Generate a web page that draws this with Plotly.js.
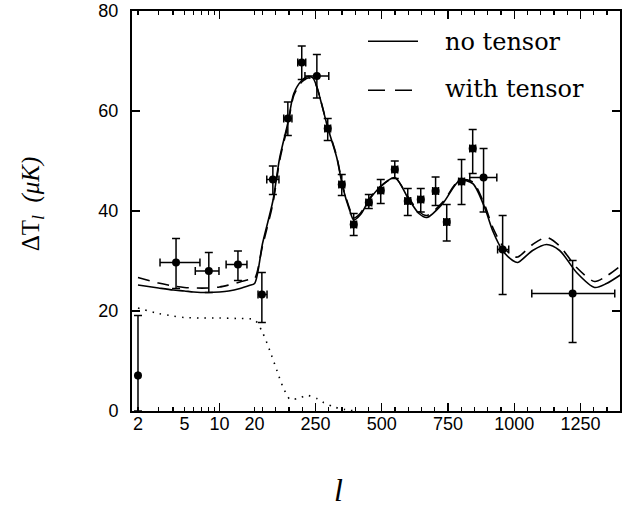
<!DOCTYPE html>
<html><head><meta charset="utf-8">
<script src="https://cdn.plot.ly/plotly-3.0.1.min.js"></script>
<style>html,body{margin:0;padding:0;background:#fff}</style>
</head><body><div id="chart" style="width:642px;height:508px"></div>
<script>
// ---- data (multipole l, temperature anisotropy in microK) ----
const dataL    = [2, 4.24, 8.1, 14.4, 47.5, 89, 145.5, 198, 255, 296, 349, 394, 451, 496, 549, 598, 647, 703, 745, 801, 843, 884, 956, 1220];
const dataT    = [7.1, 29.7, 28.0, 29.3, 23.3, 46.3, 58.5, 69.7, 67.0, 56.5, 45.3, 37.3, 41.7, 44.1, 48.3, 42.0, 42.3, 44.0, 37.8, 45.9, 52.5, 46.7, 32.3, 23.5];
const errPlus  = [12.0, 4.8, 3.7, 2.7, 4.4, 2.7, 3.3, 3.3, 4.3, 2.0, 2.0, 2.2, 1.6, 2.2, 1.7, 2.5, 2.2, 2.8, 3.5, 4.4, 3.8, 5.8, 6.8, 6.6];
const errMinus = [7.1, 5.2, 4.3, 3.2, 5.6, 3.0, 3.4, 3.4, 4.4, 2.4, 2.2, 2.2, 1.2, 2.6, 1.8, 2.9, 2.5, 2.9, 3.8, 4.6, 5.0, 6.9, 9.0, 9.8];
const lLow     = [2, 3.09, 6.2, 11.4, 33, 66, 130, 183, 210, 285, 338, 383, 440, 485, 538, 587, 636, 692, 734, 790, 832, 832, 937, 1066];
const lHigh    = [2, 6.8, 9.9, 17.2, 67, 112, 161, 213, 300, 307, 360, 405, 462, 507, 560, 609, 658, 714, 756, 812, 854, 934, 979, 1379];

const noTensorL = [2, 3, 4, 5, 6, 8, 10, 12, 15, 18, 20, 50, 89, 115, 146, 168, 198, 221, 240, 255, 296, 330, 353, 379, 394, 420, 451, 492, 549, 598, 640, 670, 730, 794, 843, 888, 918, 956, 994, 1013, 1069, 1122, 1171, 1235, 1303, 1348, 1400];
const noTensorT = [25.2, 24.6, 24.2, 24.0, 23.8, 23.7, 23.8, 24.0, 24.5, 25.1, 25.5, 33.5, 42.0, 50.7, 57.7, 63.5, 66.1, 66.9, 66.6, 64.8, 56.7, 50.7, 44.7, 40.1, 38.2, 39.3, 42.1, 44.7, 46.7, 42.7, 39.5, 38.7, 41.5, 46.1, 45.5, 40.7, 36.1, 32.1, 30.1, 29.7, 32.1, 33.3, 32.1, 27.7, 24.7, 25.5, 27.2];

const withTensorL = [2, 3, 4, 5, 6, 8, 10, 12, 15, 18, 20, 50, 89, 115, 146, 168, 198, 221, 240, 255, 296, 330, 353, 379, 394, 420, 451, 492, 549, 598, 640, 670, 730, 794, 843, 888, 918, 956, 994, 1013, 1069, 1122, 1171, 1235, 1303, 1348, 1400];
const withTensorT = [26.7, 25.6, 25.0, 24.7, 24.6, 24.6, 24.8, 25.2, 25.8, 26.3, 26.5, 33.0, 41.5, 50.2, 57.3, 63.1, 65.8, 66.6, 66.4, 64.8, 56.8, 50.9, 44.9, 40.4, 38.6, 39.6, 42.3, 44.8, 46.6, 42.9, 39.9, 39.1, 41.8, 46.2, 45.8, 41.2, 36.8, 33.0, 31.0, 30.8, 33.3, 34.7, 33.0, 28.7, 25.9, 27.0, 29.0];

const tensorL = [2, 3, 4, 5, 7, 10, 14, 20, 50, 78, 105, 128, 155, 193, 220, 255, 280, 320, 360, 400];
const tensorT = [20.6, 19.5, 19.0, 18.7, 18.6, 18.6, 18.5, 18.2, 15.7, 12.0, 8.0, 4.7, 2.3, 2.7, 3.1, 2.5, 1.7, 0.8, 0.3, 0.0];

const labelL   = [2, 5, 10, 20, 250, 500, 750, 1000, 1250];
const labelTxt = ['2', '5', '10', '20', '250', '500', '750', '1000', '1250'];
const majorL   = [10, 250, 500, 750, 1000, 1250];
const minorL   = [2, 3, 4, 5, 6, 7, 8, 9, 20, 50, 100, 150, 200, 300, 350, 400, 450, 550, 600, 650, 700, 800, 850, 900, 950, 1050, 1100, 1150, 1200, 1300, 1350];
const yTicks   = [0, 20, 40, 60, 80];

// ---- broken axis: log for l<=20, linear above ----
const DEC = 116.7, LIN = 0.2653;
function u(l) { return l <= 20 ? DEC * Math.log10(l / 2) : DEC + LIN * (l - 20); }
const U = a => a.map(u);

const dataU = U(dataL);
const traces = [
  {x: U(noTensorL), y: noTensorT, mode: 'lines', line: {color: '#000', width: 1.6, shape: 'spline', smoothing: 0.8}, hoverinfo: 'skip'},
  {x: U(withTensorL), y: withTensorT, mode: 'lines', line: {color: '#000', width: 1.6, dash: '12px,8px', shape: 'spline', smoothing: 0.8}, hoverinfo: 'skip'},
  {x: U(tensorL), y: tensorT, xaxis: 'x2', mode: 'lines', line: {color: '#000', width: 1.6, dash: '1.5px,6px', shape: 'spline', smoothing: 0.8}, hoverinfo: 'skip'},
  {x: dataU, y: dataT, mode: 'markers', marker: {color: '#000', size: 8, symbol: 'circle'},
   error_y: {type: 'data', symmetric: false, array: errPlus, arrayminus: errMinus, color: '#000', thickness: 1.5, width: 4},
   error_x: {type: 'data', symmetric: false, array: dataL.map((l, i) => u(lHigh[i]) - u(l)), arrayminus: dataL.map((l, i) => u(l) - u(lLow[i])), color: '#000', thickness: 1.5, width: 4}}
];

const X0 = 132, X1 = 620, YB = 410.7, YT = 10.7;
const px = v => (v - X0) / (X1 - X0);
const py = v => (YB - v) / (YB - YT);
const range = [-6, 482.5];

const layout = {
  width: 642, height: 508, showlegend: false,
  paper_bgcolor: '#fff', plot_bgcolor: '#fff',
  margin: {l: 132, r: 22, t: 11, b: 97, pad: 0},
  xaxis: {range: range, tickmode: 'array', tickvals: U(majorL), showticklabels: false,
    ticks: 'inside', ticklen: 8, tickwidth: 1.3, tickcolor: '#000', mirror: 'ticks',
    showline: true, linewidth: 2, linecolor: '#000', showgrid: false, zeroline: false,
    minor: {tickmode: 'array', tickvals: U(minorL), ticks: 'inside', ticklen: 4, tickwidth: 1.3, tickcolor: '#000', showgrid: false}},
  xaxis2: {range: range, overlaying: 'x', anchor: 'y', side: 'bottom', tickmode: 'array', tickvals: U(labelL), ticktext: labelTxt,
    ticks: '', showline: false, showgrid: false, zeroline: false,
    tickfont: {family: 'Liberation Sans, Arial', size: 18, color: '#000'}},
  yaxis: {range: [0, 80], tickmode: 'array', tickvals: yTicks, ticks: 'inside', ticklen: 8, tickwidth: 1.3, tickcolor: '#000',
    mirror: 'ticks', showline: true, linewidth: 2, linecolor: '#000', showgrid: false, zeroline: false,
    ticklabelstandoff: 8, tickfont: {family: 'Liberation Sans, Arial', size: 18, color: '#000'}},
  shapes: [
    {type: 'line', xref: 'paper', yref: 'paper', x0: px(368), x1: px(418), y0: py(41), y1: py(41), line: {color: '#000', width: 1.6}},
    {type: 'line', xref: 'paper', yref: 'paper', x0: px(368), x1: px(418), y0: py(90), y1: py(90), line: {color: '#000', width: 1.6, dash: '17px,10px'}}
  ],
  annotations: [
    {xref: 'paper', yref: 'paper', x: px(443), y: py(42), xanchor: 'left', yanchor: 'middle', showarrow: false,
     text: 'no tensor', font: {family: 'DejaVu Serif', size: 24, color: '#000'}},
    {xref: 'paper', yref: 'paper', x: px(443), y: py(89), xanchor: 'left', yanchor: 'middle', showarrow: false,
     text: 'with tensor', font: {family: 'DejaVu Serif', size: 24, color: '#000'}},
    {xref: 'paper', yref: 'paper', x: px(32), y: py(204), xanchor: 'center', yanchor: 'middle', showarrow: false, textangle: -90,
     text: 'ΔT<sub><i>l</i></sub>  <i>(μK)</i>', font: {family: 'Liberation Serif', size: 25, color: '#000'}},
    {xref: 'paper', yref: 'paper', x: px(338), y: py(490), xanchor: 'center', yanchor: 'middle', showarrow: false,
     text: '<i>l</i>', font: {family: 'Liberation Serif', size: 32, color: '#000'}}
  ]
};

Plotly.newPlot('chart', traces, layout, {staticPlot: true, displayModeBar: false});
</script></body></html>
